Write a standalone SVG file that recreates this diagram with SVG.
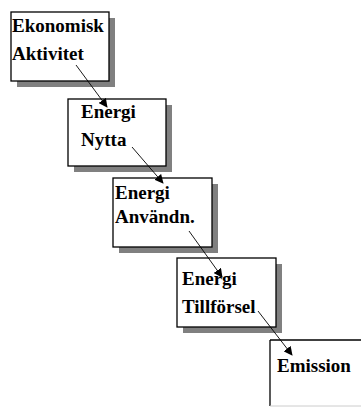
<svg xmlns="http://www.w3.org/2000/svg" width="361" height="407" viewBox="0 0 361 407">
<style>
.box{fill:#fff;stroke:#000;stroke-width:1.3}
.sh{fill:#808080}
.t{font-family:"Liberation Serif","Times New Roman",serif;font-weight:bold;font-size:19px;fill:#000}
.c{stroke:#000;stroke-width:0.9;fill:none}
</style>
<defs>
<marker id="ah" viewBox="0 0 10 10" refX="9" refY="5" markerWidth="9" markerHeight="9" markerUnits="userSpaceOnUse" orient="auto">
<path d="M0,0 L10,5 L0,10 z" fill="#000"/>
</marker>
</defs>
<rect width="361" height="407" fill="#fff"/>
<g id="n1">
<rect class="sh" x="17" y="18" width="98" height="69"/>
<rect class="box" x="11" y="12" width="98" height="69"/>
<text class="t" x="12" y="32">Ekonomisk</text>
<text class="t" x="12" y="60">Aktivitet</text>
</g>
<g id="n2">
<rect class="sh" x="74" y="105" width="98" height="67"/>
<rect class="box" x="68" y="99" width="98" height="67"/>
<text class="t" x="81" y="118">Energi</text>
<text class="t" x="81" y="146">Nytta</text>
</g>
<g id="n3">
<rect class="sh" x="119" y="184" width="99" height="69"/>
<rect class="box" x="113" y="178" width="99" height="69"/>
<text class="t" x="115" y="199">Energi</text>
<text class="t" x="115" y="223">Användn.</text>
</g>
<g id="n4">
<rect class="sh" x="183" y="264" width="99" height="69"/>
<rect class="box" x="177" y="258" width="99" height="69"/>
<text class="t" x="182" y="285">Energi</text>
<text class="t" x="182" y="313">Tillförsel</text>
</g>
<g id="n5">
<rect x="270" y="340" width="95" height="66" fill="#fff"/>
<line x1="270" y1="340" x2="361" y2="340" stroke="#000" stroke-width="1.3"/>
<line x1="270" y1="340" x2="270" y2="406" stroke="#000" stroke-width="1.3"/>
<line x1="270" y1="406" x2="361" y2="406" stroke="#ccc" stroke-width="1"/>
<text class="t" x="277" y="372">Emission</text>
</g>
<g id="connectors">
<line class="c" x1="76" y1="65" x2="107" y2="107" marker-end="url(#ah)"/>
<line class="c" x1="132" y1="147" x2="163" y2="183" marker-end="url(#ah)"/>
<line class="c" x1="189" y1="231" x2="222" y2="277" marker-end="url(#ah)"/>
<line class="c" x1="258" y1="311" x2="292" y2="355" marker-end="url(#ah)"/>
</g>
</svg>
